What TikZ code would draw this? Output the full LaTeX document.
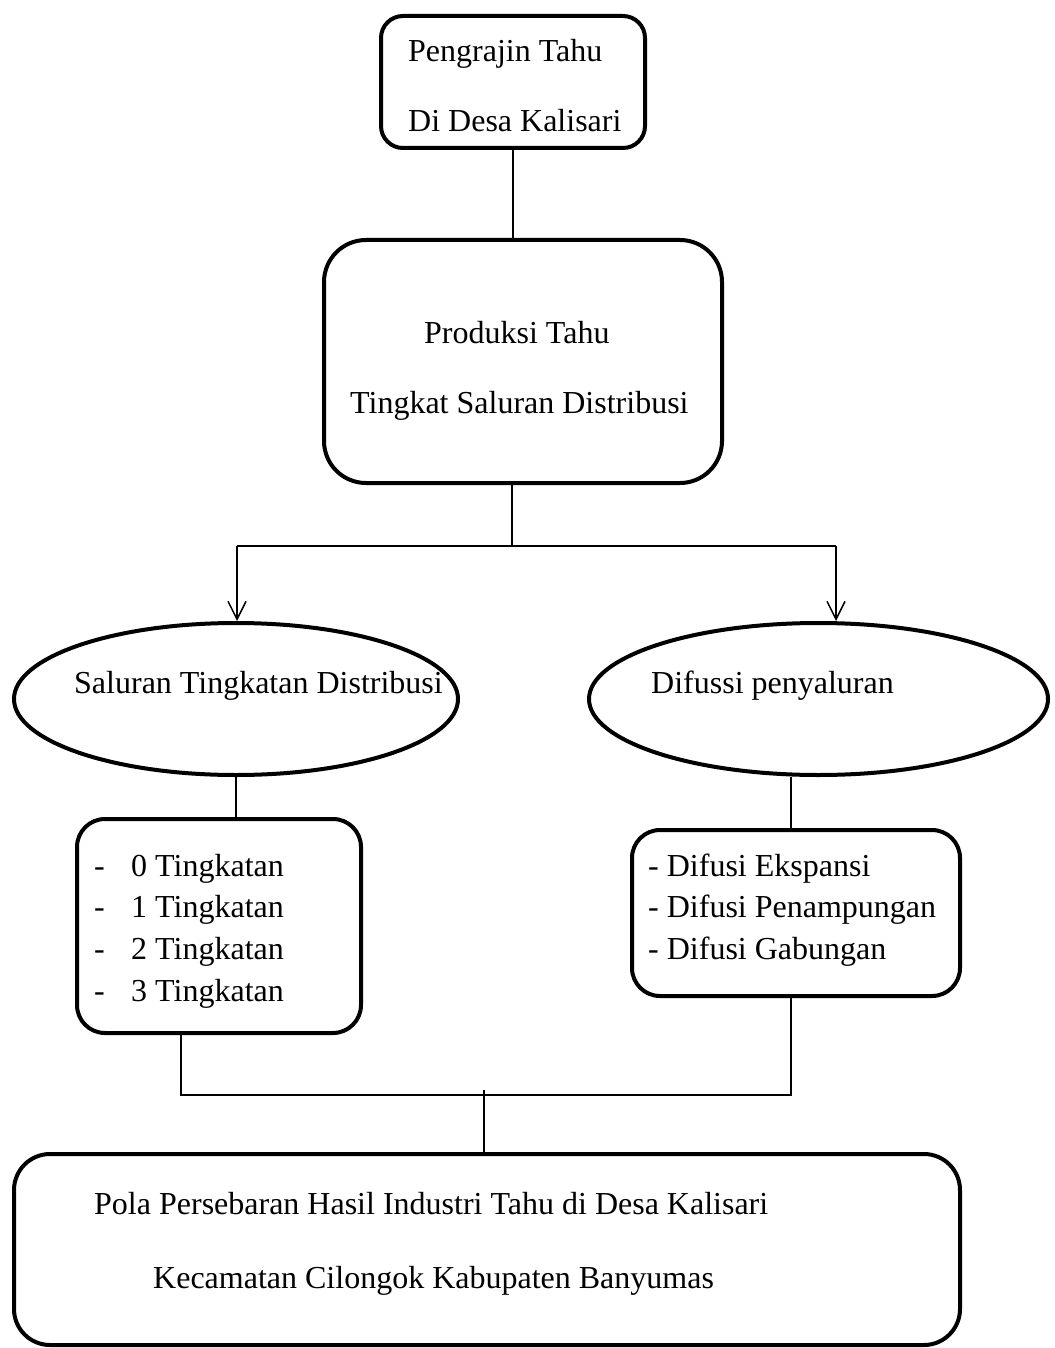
\documentclass[tikz,border=0pt]{standalone}
\usepackage{fontspec}
\setmainfont{Liberation Serif}
\usetikzlibrary{shapes.geometric,arrows.meta}
\begin{document}
\begin{tikzpicture}[x=1pt,y=-1pt,
  rbox/.style={draw, line width=4pt, rounded corners=#1, inner sep=0pt},
  rbox/.default=30pt,
  oval/.style={draw, ellipse, line width=4pt, inner sep=0pt},
  conn/.style={line width=1.5pt},
  arr/.style={conn, -{Straight Barb[length=18pt,width=18pt,line width=1.5pt]}},
  txt/.style={anchor=base west, inner sep=0pt, font=\fontsize{32}{38}\selectfont}]
\path[fill=white,use as bounding box] (0,0) rectangle (1054,1348);

% boxes
\node[rbox=22pt, minimum width=264pt, minimum height=132pt] (b1) at (513,82) {};
\node[rbox=42pt, minimum width=398pt, minimum height=243pt] (b2) at (523,361.5) {};
\node[oval, minimum width=444pt, minimum height=152pt] (e1) at (236,699) {};
\node[oval, minimum width=459pt, minimum height=152pt] (e2) at (818.5,699) {};
\node[rbox=28pt, minimum width=284pt, minimum height=214pt] (b3) at (219,926) {};
\node[rbox=28pt, minimum width=328pt, minimum height=166pt] (b4) at (796,913) {};
\node[rbox=36pt, minimum width=946pt, minimum height=191pt] (b5) at (487,1249.5) {};

% texts
\node[txt] (t1) at (408,62) {Pengrajin Tahu};
\node[txt] (t2) at (408,132) {Di Desa Kalisari};
\node[txt] (t3) at (424,343) {Produksi Tahu};
\node[txt] (t4) at (350,413) {Tingkat Saluran Distribusi};
\node[txt] (t5) at (74,693) {Saluran Tingkatan Distribusi};
\node[txt] (t6) at (651,693) {Difussi penyaluran};
\node[txt] (l0) at (94,876) {\makebox[37pt][l]{-}0 Tingkatan};
\node[txt] (l1) at (94,917) {\makebox[37pt][l]{-}1 Tingkatan};
\node[txt] (l2) at (94,959) {\makebox[37pt][l]{-}2 Tingkatan};
\node[txt] (l3) at (94,1001) {\makebox[37pt][l]{-}3 Tingkatan};
\node[txt] (r0) at (648,876) {- Difusi Ekspansi};
\node[txt] (r1) at (648,917) {- Difusi Penampungan};
\node[txt] (r2) at (648,959) {- Difusi Gabungan};
\node[txt] (p1) at (94,1214) {Pola Persebaran Hasil Industri Tahu di Desa Kalisari};
\node[txt] (p2) at (153,1288) {Kecamatan Cilongok Kabupaten Banyumas};

% connectors
\coordinate (j1) at (512,546);
\coordinate (jl) at (237,546);
\coordinate (jr) at (836,546);
\coordinate (rx) at (791,1095);
\coordinate (lx) at (181,1095);
\coordinate (jb) at (484,1090);

\draw[conn] (b1.south) -- (b1.south |- b2.north);
\draw[conn] (j1 |- b2.south) -- (j1);
\draw[conn] (jl) -- (jr);
\draw[arr] (jl) -- (jl |- e1.north);
\draw[arr] (jr) -- (jr |- e2.north);
\draw[conn] (e1.south) -- (e1.south |- b3.north);
\draw[conn] (rx |- e2.south) -- (rx |- b4.north);
\draw[conn] (lx |- b3.south) -- (lx) -- (rx) -- (rx |- b4.south);
\draw[conn] (jb) -- (jb |- b5.north);
\end{tikzpicture}
\end{document}
